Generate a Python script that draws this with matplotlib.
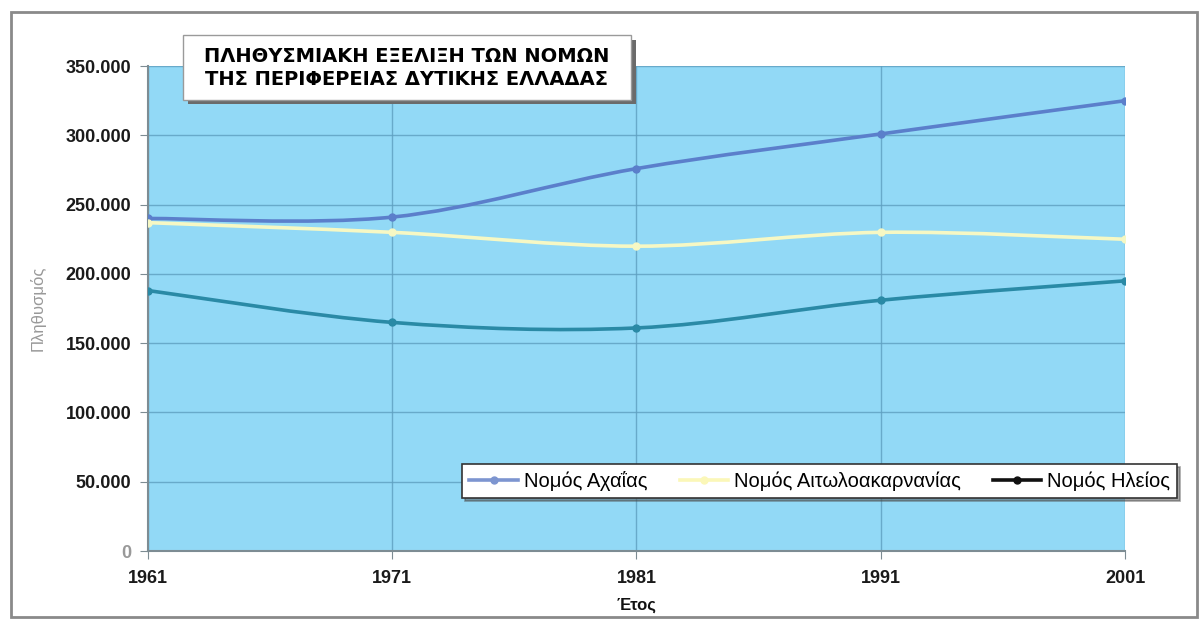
import matplotlib.pyplot as plt
from matplotlib.path import Path
from matplotlib.patches import PathPatch, Rectangle
from matplotlib.lines import Line2D
from matplotlib.ticker import FuncFormatter

plt.rcParams['font.family'] = ['Liberation Sans', 'DejaVu Sans']

years = [1961, 1971, 1981, 1991, 2001]
achaia = [240000, 241000, 276000, 301000, 325000]
aitolo = [237000, 230000, 220000, 230000, 225000]
ilia = [188000, 165000, 161000, 181000, 195000]
names = ['Νομός Αχαΐας', 'Νομός Αιτωλοακαρνανίας', 'Νομός Ηλείος']
line_colors = ['#5b7fcb', '#f6f8c4', '#2a8aa6']
legend_colors = ['#7d95d0', '#fbf7b8', '#111111']


def smooth_path(xs, ys):
    # excel-like smoothed line: bezier segments with catmull-rom control points
    pts = list(zip(xs, ys))
    verts = [pts[0]]
    codes = [Path.MOVETO]
    n = len(pts)
    for i in range(n - 1):
        p0 = pts[max(i - 1, 0)]
        p1 = pts[i]
        p2 = pts[i + 1]
        p3 = pts[min(i + 2, n - 1)]
        c1 = (p1[0] + (p2[0] - p0[0]) / 6, p1[1] + (p2[1] - p0[1]) / 6)
        c2 = (p2[0] - (p3[0] - p1[0]) / 6, p2[1] - (p3[1] - p1[1]) / 6)
        verts += [c1, c2, p2]
        codes += [Path.CURVE4] * 3
    return Path(verts, codes)


fig = plt.figure(figsize=(12.04, 6.22), dpi=100)
fig.patch.set_facecolor('white')
ax = fig.add_axes([0.1229, 0.1141, 0.8115, 0.7797])
ax.set_facecolor('#92d9f6')

for vals, c in zip([achaia, aitolo, ilia], line_colors):
    ax.add_patch(PathPatch(smooth_path(years, vals), fill=False, edgecolor=c, lw=2.6, zorder=3))
    ax.plot(years, vals, 'o', color=c, ms=5, zorder=4)

ax.set_xlim(1961, 2001)
ax.set_ylim(0, 350000)
ax.set_xticks(years)
ax.set_yticks(range(0, 350001, 50000))
ax.yaxis.set_major_formatter(FuncFormatter(lambda v, p: '0' if v == 0 else f'{int(v):,}'.replace(',', '.')))
ax.grid(color='#5e9fc0', lw=1, alpha=0.8)
ax.set_axisbelow(True)
for s in ['top', 'right']:
    ax.spines[s].set_visible(False)
for s in ['left', 'bottom']:
    ax.spines[s].set_color('#7d8c93')
    ax.spines[s].set_linewidth(1.5)
ax.tick_params(axis='both', labelsize=13, colors='#7d8c93', labelcolor='#1a1a1a', length=6)
ax.tick_params(axis='x', pad=8)
ax.tick_params(axis='y', pad=6)
for lab in ax.get_yticklabels() + ax.get_xticklabels():
    lab.set_fontweight('bold')
ax.get_yticklabels()[0].set_color('#999999')
ax.set_ylabel('Πληθυσμός', fontsize=12, color='#999999', labelpad=14)
ax.set_xlabel('Έτος', fontsize=12, fontweight='bold', color='#111111', labelpad=7)

# title box with shadow
fig.patches.append(Rectangle((0.156, 0.832), 0.372, 0.104, transform=fig.transFigure,
                             facecolor='#6b6b6b', edgecolor='none', zorder=5))
fig.patches.append(Rectangle((0.152, 0.839), 0.372, 0.104, transform=fig.transFigure,
                             facecolor='white', edgecolor='#9a9a9a', lw=1, zorder=6))
fig.text(0.338, 0.891, 'ΠΛΗΘΥΣΜΙΑΚΗ ΕΞΕΛΙΞΗ ΤΩΝ ΝΟΜΩΝ\nΤΗΣ ΠΕΡΙΦΕΡΕΙΑΣ ΔΥΤΙΚΗΣ ΕΛΛΑΔΑΣ',
         ha='center', va='center', fontsize=14, fontweight='bold', linespacing=1.3,
         family=['DejaVu Sans'], zorder=7)

handles = [Line2D([], [], color=c, marker='o', ms=5, lw=2.6) for c in legend_colors]
leg = fig.legend(handles, names, ncol=3, loc='center', bbox_to_anchor=(0.681, 0.227),
                 fontsize=14.5, frameon=True, fancybox=False, shadow=True,
                 handlelength=2.4, handletextpad=0.3, columnspacing=1.6, borderpad=0.35)
leg.get_frame().set_edgecolor('#333333')
leg.get_frame().set_linewidth(1.2)

# outer chart frame
fig.patches.append(Rectangle((0.009, 0.008), 0.985, 0.972, transform=fig.transFigure,
                             fill=False, edgecolor='#8a8a8a', lw=2))

fig.savefig('out.png', dpi=100)
